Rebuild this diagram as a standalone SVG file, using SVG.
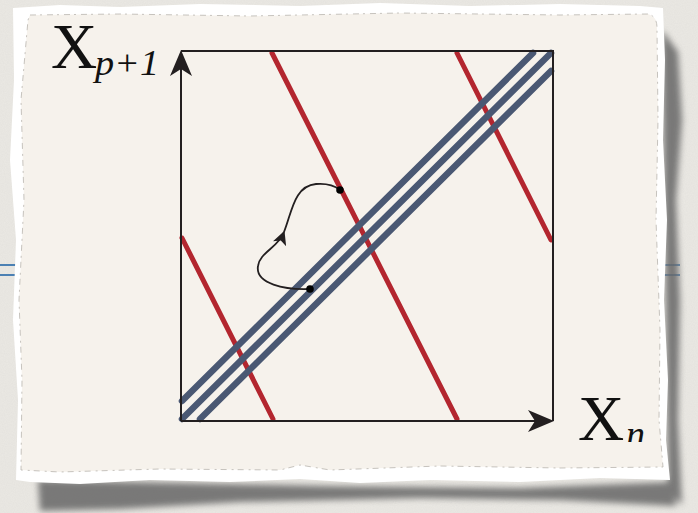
<svg xmlns="http://www.w3.org/2000/svg" width="698" height="513" viewBox="0 0 698 513">
<defs>
<filter id="noise" x="0" y="0" width="100%" height="100%">
<feTurbulence type="fractalNoise" baseFrequency="0.9" numOctaves="2" seed="3" result="t"/>
<feColorMatrix in="t" type="matrix" values="0 0 0 0 0.55  0 0 0 0 0.54  0 0 0 0 0.52  0 0 0 0.18 0"/>
</filter>
<filter id="blur4" x="-20%" y="-20%" width="140%" height="140%"><feGaussianBlur stdDeviation="3"/></filter>
<clipPath id="clipn"><rect x="560" y="380" width="120" height="62"/></clipPath>
<marker id="ah" viewBox="0 0 10 10" refX="9" refY="5" markerWidth="14" markerHeight="14" markerUnits="userSpaceOnUse" orient="auto">
<path d="M0,0 L10,5 L0,10 L2.5,5 Z" fill="#231f20"/>
</marker>
</defs>
<style>
.axis{stroke:#231f20;stroke-width:2;fill:none}
.red{stroke:#b3262f;stroke-width:5;stroke-linecap:round;fill:none}
.blue{stroke:#4a5873;stroke-width:6.5;stroke-linecap:round;fill:none}
.lbl{font-family:"Liberation Serif","DejaVu Serif",serif;fill:#111}
.sub{font-style:italic}
.rule{stroke:#2466a8;stroke-width:1.6}
</style>
<!-- background -->
<rect width="698" height="513" fill="#ebe9e4"/>
<rect width="698" height="513" filter="url(#noise)"/>
<line class="rule" x1="0" y1="265" x2="26" y2="265"/>
<line class="rule" x1="0" y1="275" x2="26" y2="275"/>
<line class="rule" x1="660" y1="265" x2="680" y2="265" opacity="0.8"/>
<line class="rule" x1="660" y1="275" x2="680" y2="275" opacity="0.8"/>
<!-- shadows -->
<g fill="#666" filter="url(#blur4)" opacity="0.85">
<path d="M38,480 L330,486 L520,488 L672,482 L676,506 L560,500 L420,498 L240,502 L120,509 L40,511 Z"/>
<path d="M662,30 L678,52 L682,120 L676,200 L680,300 L678,420 L682,505 L668,490 Z"/>
</g>
<!-- paper -->
<g id="paper">
<path d="M13,8 L60,5 L120,7 L200,4 L300,6 L380,3 L470,6 L560,4 L640,6 L663,8 L665,60 L663,140 L667,220 L664,300 L668,380 L666,440 L670,480 L600,478 L520,482 L430,480 L360,483 L300,479 L230,482 L150,480 L80,484 L30,482 L16,480 L18,400 L13,320 L16,240 L10,160 L14,80 Z" fill="#ffffff"/>
<path d="M30,15 L120,14 L250,16 L400,13 L560,15 L648,14 Q657,16 657,28 L658,120 L656,220 L660,330 L659,420 L663,467 L560,468 L440,466 L330,470 L300,465 L280,470 L160,469 L60,472 L21,470 L22,380 L19,300 L24,200 L21,100 L28,20 Z" fill="#f6f2ec" stroke="#b9b5ae" stroke-width="0.8" stroke-dasharray="6 4 2 5"/>
</g>
<!-- red lines -->
<g id="red-lines">
<line class="red" x1="272" y1="53" x2="457" y2="419"/>
<line class="red" x1="457" y1="53" x2="551" y2="240"/>
<line class="red" x1="182" y1="238" x2="273" y2="419"/>
</g>
<!-- blue lines -->
<g id="blue-lines">
<line class="blue" x1="533" y1="53" x2="182" y2="401"/>
<line class="blue" x1="551" y1="53" x2="182" y2="419"/>
<line class="blue" x1="551" y1="71" x2="200" y2="419"/>
</g>
<!-- axes -->
<g id="axes">
<path class="axis" d="M181,421 L181,60"/>
<path class="axis" d="M181,51 L553,51 L553,421"/>
<path class="axis" d="M181,421 L544,421"/>
<path d="M181,50 L192,76 L181,69 L170,76 Z" fill="#231f20"/>
<path d="M554,421 L528,410 L535,421 L528,432 Z" fill="#231f20"/>
</g>
<!-- trajectory -->
<g id="connectors">
<path d="M310,289 C285,290 255,284 258,266 C260,252 278,248 284,232" stroke="#231f20" stroke-width="1.8" fill="none" marker-end="url(#ah)"/>
<path d="M284,232 C292,212 294,186 316,184 C328,183 335,186 340,190" stroke="#231f20" stroke-width="1.8" fill="none"/>
<circle cx="310" cy="289" r="3.8" fill="#000"/>
<circle cx="340" cy="190" r="3.8" fill="#000"/>
</g>
<!-- labels -->
<g id="label-y">
<text class="lbl" x="51" y="68" font-size="64">X</text>
<text class="lbl sub" x="95" y="75" font-size="35" textLength="64" lengthAdjust="spacingAndGlyphs">p+1</text>
</g>
<g id="label-x" clip-path="url(#clipn)">
<text class="lbl" x="578" y="440" font-size="64">X</text>
<text class="lbl sub" x="626" y="447" font-size="38">n</text>
</g>
</svg>
